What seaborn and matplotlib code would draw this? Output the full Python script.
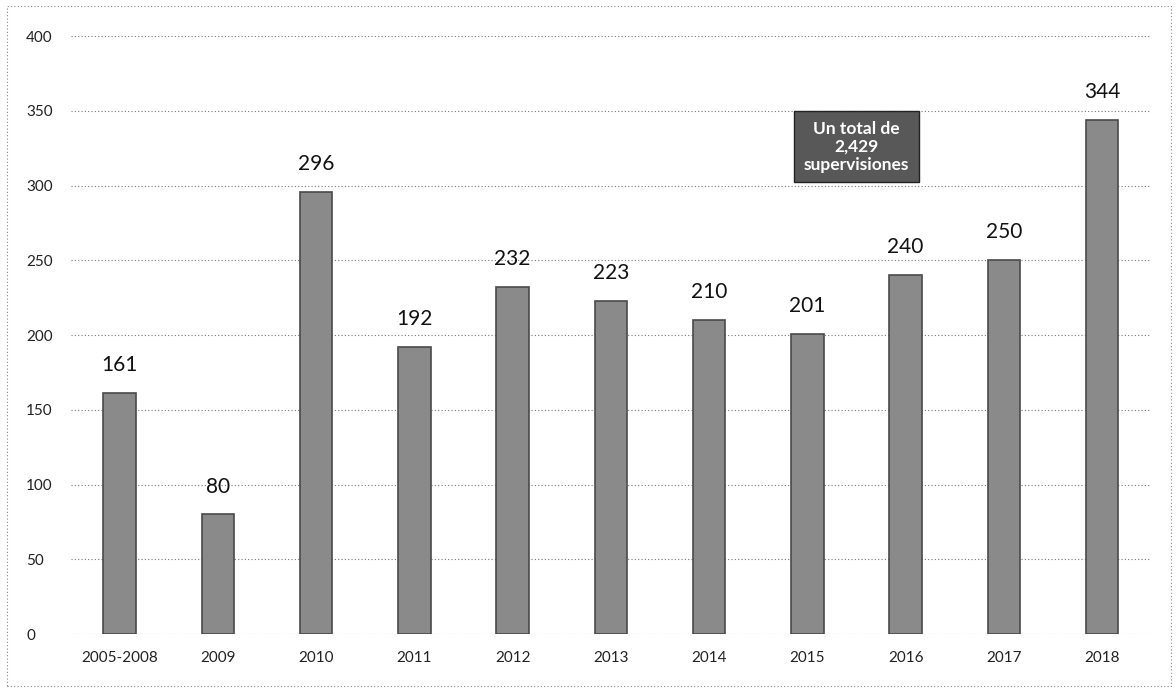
import pandas as pd
import matplotlib.pyplot as plt
import seaborn as sns

# values
years = ['2005-2008', '2009', '2010', '2011', '2012', '2013', '2014', '2015', '2016', '2017', '2018']
supervisiones = [161, 80, 296, 192, 232, 223, 210, 201, 240, 250, 344]
yticks = [0, 50, 100, 150, 200, 250, 300, 350, 400]
total_label = 'Un total de\n2,429\nsupervisiones'

df = pd.DataFrame({'Año': years, 'Supervisiones': supervisiones})

sns.set_style('white')
plt.rcParams['font.family'] = ['Lato', 'DejaVu Sans']

fig = plt.figure(figsize=(11.76, 6.93), dpi=100)
ax = fig.add_axes([0.060, 0.085, 0.919, 0.863])

sns.barplot(data=df, x='Año', y='Supervisiones', color='#8a8a8a', width=0.33,
            edgecolor='#4a4a4a', linewidth=1.2, saturation=1, ax=ax, zorder=3)

ax.set_ylim(0, 400)
ax.set_yticks(yticks)
ax.set_xlim(-0.5, len(years) - 0.5)
ax.grid(axis='y', linestyle=(0, (1, 2)), color='#777777', linewidth=0.8, zorder=0)
ax.set_xlabel('')
ax.set_ylabel('')
ax.tick_params(axis='both', length=0, labelsize=11, colors='#222222')
ax.tick_params(axis='y', pad=32)
ax.tick_params(axis='x', pad=12)
for lab in ax.get_yticklabels():
    lab.set_horizontalalignment('left')
for s in ax.spines.values():
    s.set_visible(False)

for i, v in enumerate(supervisiones):
    ax.text(i, v + 12, str(v), ha='center', va='bottom', fontsize=15, color='#111111')

ax.text(7.5, 326, total_label, ha='center', va='center', fontsize=12.5, fontweight='bold',
        color='white', linespacing=1.15,
        bbox=dict(boxstyle='square,pad=0.55', facecolor='#585858', edgecolor='#222222'))

# dotted frame from the scan
fig.patches.append(plt.Rectangle((0.006, 0.01), 0.99, 0.982, transform=fig.transFigure,
                                 fill=False, linestyle=(0, (1, 2)), edgecolor='#888888',
                                 linewidth=0.8))

fig.savefig('out.png', dpi=100)
